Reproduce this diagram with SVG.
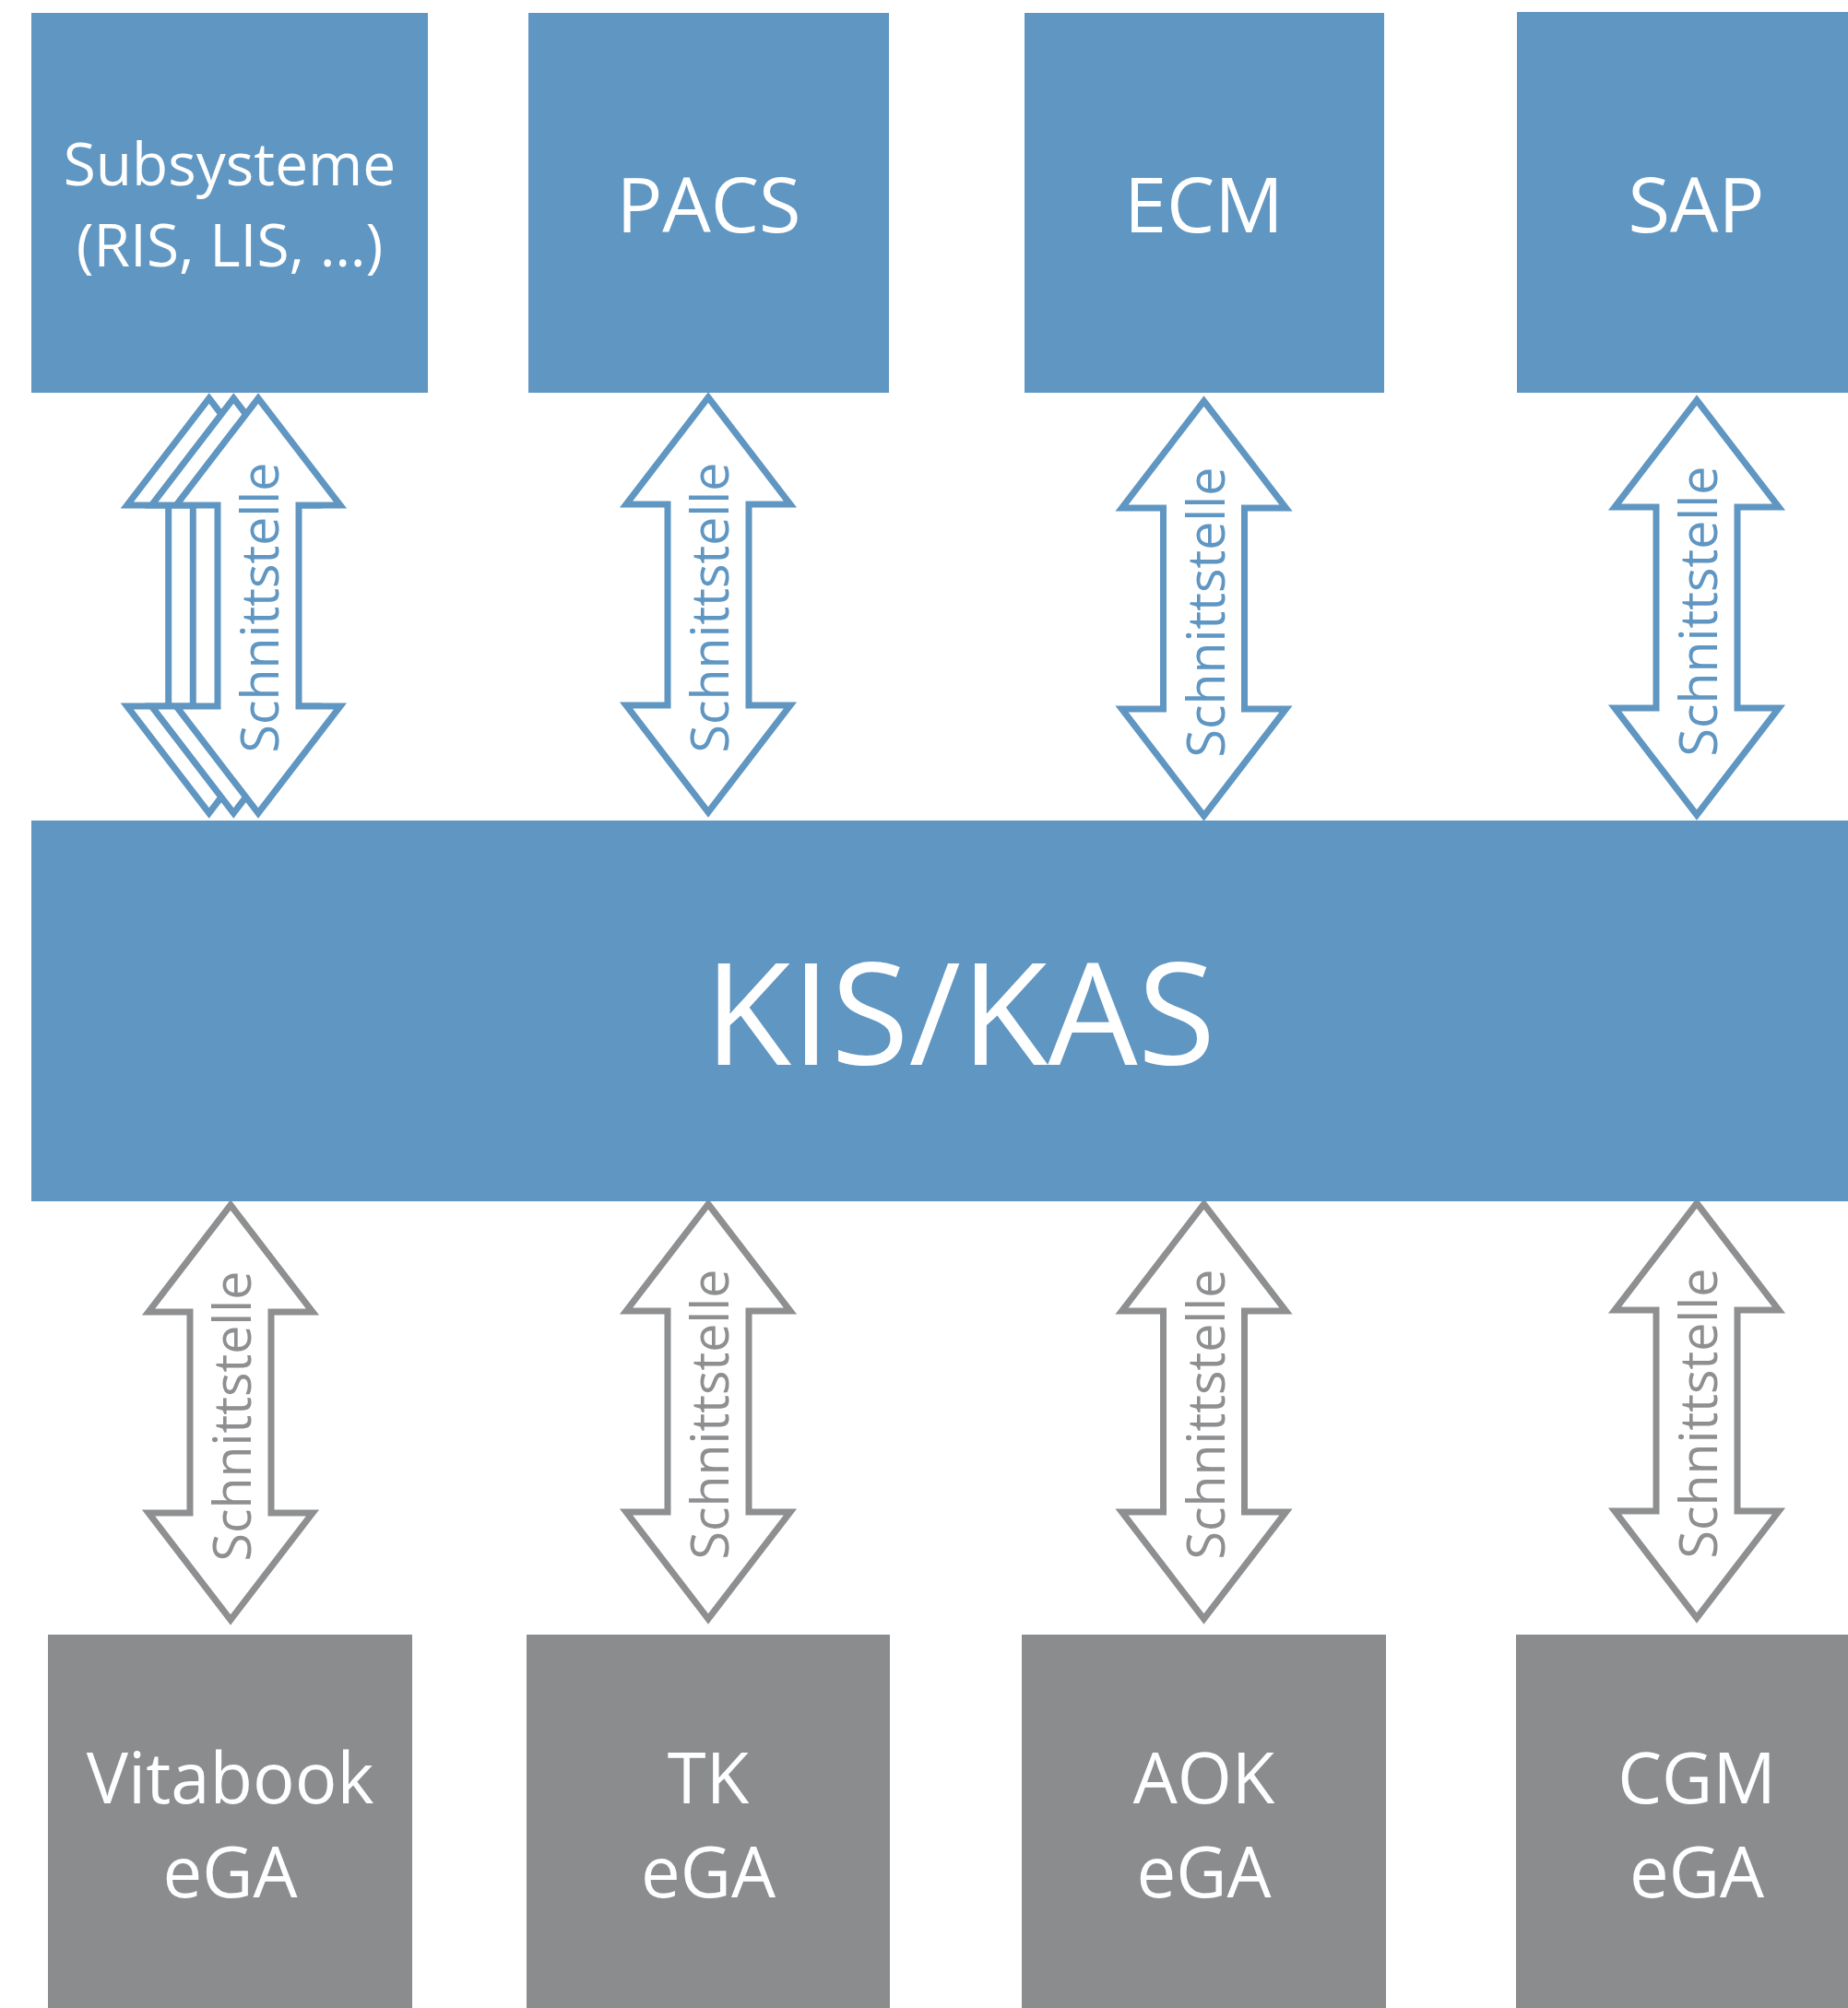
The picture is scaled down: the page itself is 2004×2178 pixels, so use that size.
<svg xmlns="http://www.w3.org/2000/svg" xmlns:xlink="http://www.w3.org/1999/xlink" width="2004" height="2178" viewBox="0 0 2004 2178">
<style>
.bbox{fill:#6096C2}
.gbox{fill:#8B8C8E}
.lbl{font-family:"Open Sans","Noto Sans","Liberation Sans",sans-serif;fill:#FFFFFF;text-anchor:middle}
.arr{fill:#FFFFFF;stroke-width:7;stroke-linejoin:miter;stroke-miterlimit:10}
.ab{stroke:#6096C2}
.ag{stroke:#8E8F91}
.st{font-family:"Open Sans","Noto Sans","Liberation Sans",sans-serif;font-size:57px;text-anchor:middle}
.stb{fill:#6096C2}
.stg{fill:#8E8F91}
</style>
<defs>
<path id="dblarrow" d="M0,0 L89,116 L44,116 L44,334 L89,334 L0,450 L-89,334 L-44,334 L-44,116 L-89,116 Z"/>
</defs>
<rect width="2004" height="2178" fill="#FFFFFF"/>

<g id="connectors">
  <g id="c-sub">
    <use xlink:href="#dblarrow" href="#dblarrow" class="arr ab" transform="translate(226.7,432)"/>
    <use xlink:href="#dblarrow" href="#dblarrow" class="arr ab" transform="translate(253.3,432)"/>
    <use xlink:href="#dblarrow" href="#dblarrow" class="arr ab" transform="translate(280,432)"/>
    <text class="st stb" transform="translate(302,659) rotate(-90)" textLength="315" lengthAdjust="spacingAndGlyphs">Schnittstelle</text>
  </g>
  <g id="c-pacs">
    <use xlink:href="#dblarrow" href="#dblarrow" class="arr ab" transform="translate(768,431)"/>
    <text class="st stb" transform="translate(790,659) rotate(-90)" textLength="315" lengthAdjust="spacingAndGlyphs">Schnittstelle</text>
  </g>
  <g id="c-ecm">
    <use xlink:href="#dblarrow" href="#dblarrow" class="arr ab" transform="translate(1305.5,435)"/>
    <text class="st stb" transform="translate(1327.5,664) rotate(-90)" textLength="315" lengthAdjust="spacingAndGlyphs">Schnittstelle</text>
  </g>
  <g id="c-sap">
    <use xlink:href="#dblarrow" href="#dblarrow" class="arr ab" transform="translate(1840,434)"/>
    <text class="st stb" transform="translate(1862,663) rotate(-90)" textLength="315" lengthAdjust="spacingAndGlyphs">Schnittstelle</text>
  </g>
  <g id="c-vitabook">
    <use xlink:href="#dblarrow" href="#dblarrow" class="arr ag" transform="translate(250,1307)"/>
    <text class="st stg" transform="translate(272,1536) rotate(-90)" textLength="315" lengthAdjust="spacingAndGlyphs">Schnittstelle</text>
  </g>
  <g id="c-tk">
    <use xlink:href="#dblarrow" href="#dblarrow" class="arr ag" transform="translate(768,1306)"/>
    <text class="st stg" transform="translate(790,1534) rotate(-90)" textLength="315" lengthAdjust="spacingAndGlyphs">Schnittstelle</text>
  </g>
  <g id="c-aok">
    <use xlink:href="#dblarrow" href="#dblarrow" class="arr ag" transform="translate(1305.5,1306)"/>
    <text class="st stg" transform="translate(1327.5,1534) rotate(-90)" textLength="315" lengthAdjust="spacingAndGlyphs">Schnittstelle</text>
  </g>
  <g id="c-cgm">
    <use xlink:href="#dblarrow" href="#dblarrow" class="arr ag" transform="translate(1840,1305)"/>
    <text class="st stg" transform="translate(1862,1533) rotate(-90)" textLength="315" lengthAdjust="spacingAndGlyphs">Schnittstelle</text>
  </g>
</g>

<g id="subsysteme">
  <rect class="bbox" x="34" y="14" width="430" height="412"/>
  <text class="lbl" font-size="64" x="249" y="201">Subsysteme</text>
  <text class="lbl" font-size="64" x="249" y="289">(RIS, LIS, …)</text>
</g>
<g id="pacs">
  <rect class="bbox" x="573" y="14" width="391" height="412"/>
  <text class="lbl" font-size="83" x="768.5" y="252">PACS</text>
</g>
<g id="ecm">
  <rect class="bbox" x="1111" y="14" width="390" height="412"/>
  <text class="lbl" font-size="83" x="1305.5" y="252">ECM</text>
</g>
<g id="sap">
  <rect class="bbox" x="1645" y="13" width="359" height="413"/>
  <text class="lbl" font-size="83" x="1839.5" y="252">SAP</text>
</g>
<g id="kis">
  <rect class="bbox" x="34" y="890" width="1970" height="413"/>
  <text class="lbl" font-size="154" x="1041" y="1155">KIS/KAS</text>
</g>
<g id="vitabook">
  <rect class="gbox" x="52" y="1773" width="395" height="405"/>
  <text class="lbl" font-size="76" x="249.5" y="1956">Vitabook</text>
  <text class="lbl" font-size="76" x="249.5" y="2058">eGA</text>
</g>
<g id="tk">
  <rect class="gbox" x="571" y="1773" width="394" height="405"/>
  <text class="lbl" font-size="76" x="768" y="1956">TK</text>
  <text class="lbl" font-size="76" x="768" y="2058">eGA</text>
</g>
<g id="aok">
  <rect class="gbox" x="1108" y="1773" width="395" height="405"/>
  <text class="lbl" font-size="76" x="1305.5" y="1956">AOK</text>
  <text class="lbl" font-size="76" x="1305.5" y="2058">eGA</text>
</g>
<g id="cgm">
  <rect class="gbox" x="1644" y="1773" width="360" height="405"/>
  <text class="lbl" font-size="76" x="1840" y="1956">CGM</text>
  <text class="lbl" font-size="76" x="1840" y="2058">eGA</text>
</g>
</svg>
